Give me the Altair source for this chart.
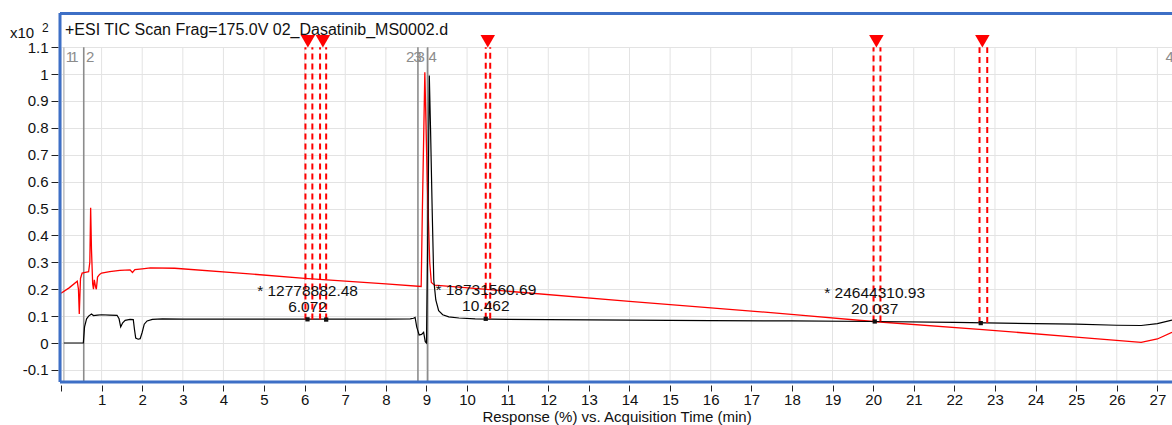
import altair as alt
import pandas as pd

# ---------------- data ----------------
black_t = [0.07, 0.55, 0.58, 0.63, 0.68, 0.75, 0.8, 0.9, 1.0, 1.2, 1.38, 1.43, 1.47, 1.52, 1.58, 1.7,
           1.78, 1.81, 1.84, 1.9, 1.95, 2.0, 2.05, 2.12, 2.25, 2.5, 3.0, 4.0, 5.0, 6.0, 7.0, 8.0, 8.6,
           8.68, 8.72, 8.76, 8.82, 8.88, 8.93, 8.97, 9.0, 9.04, 9.07, 9.1, 9.14, 9.18, 9.23, 9.3, 9.4,
           9.55, 9.8, 10.2, 11, 12, 14, 16, 18, 20, 22, 24, 25, 26, 26.6, 27.0, 27.36]
black_v = [0.0, 0.0, 0.06, 0.09, 0.1, 0.108, 0.102, 0.104, 0.105, 0.104, 0.103, 0.09, 0.06, 0.075,
           0.084, 0.088, 0.087, 0.05, 0.018, 0.014, 0.016, 0.04, 0.07, 0.082, 0.088, 0.09, 0.089,
           0.089, 0.089, 0.089, 0.089, 0.089, 0.09, 0.092, 0.095, 0.06, 0.03, 0.032, 0.04, 0.005,
           0.0, 0.5, 0.995, 0.8, 0.5, 0.234, 0.16, 0.12, 0.105, 0.097, 0.093, 0.09, 0.088, 0.087,
           0.085, 0.083, 0.082, 0.08, 0.077, 0.072, 0.07, 0.066, 0.065, 0.072, 0.085]

red_t = [0.0, 0.2, 0.4, 0.43, 0.45, 0.48, 0.52, 0.6, 0.68, 0.71, 0.73, 0.75, 0.78, 0.8, 0.82, 0.85,
         0.87, 0.9, 0.95, 1.0, 1.2, 1.45, 1.7, 1.76, 1.82, 2.0, 2.2, 2.8, 4.4, 6.0, 8.0, 8.87, 8.9,
         8.96, 9.02, 9.08, 9.12, 9.2, 10.4, 14.0, 18.2, 20.0, 22.7, 25.0, 26.6, 27.0, 27.36]
red_v = [0.185, 0.205, 0.23, 0.2, 0.108, 0.24, 0.26, 0.263, 0.265, 0.3, 0.503, 0.35, 0.22, 0.2,
         0.235, 0.21, 0.2, 0.245, 0.255, 0.26, 0.265, 0.27, 0.272, 0.262, 0.273, 0.276, 0.279,
         0.278, 0.26, 0.24, 0.22, 0.21, 0.5, 1.007, 0.6, 0.3, 0.225, 0.215, 0.2, 0.155, 0.104,
         0.08, 0.05, 0.022, 0.002, 0.015, 0.04]

# integration marks (peak triangles and dashed start/end lines)
tri_t = [6.08, 6.45, 10.51, 20.08, 22.69]
dash_t = [6.02, 6.19, 6.38, 6.53, 10.46, 10.57, 20.01, 20.18, 22.62, 22.81]
dash_base = [0.087, 0.087, 0.087, 0.087, 0.09, 0.09, 0.08, 0.08, 0.074, 0.074]
base_t = [6.07, 6.53, 10.46, 20.04, 22.65]
base_v = [0.088, 0.087, 0.09, 0.08, 0.074]

# peak annotations
ann_t = [6.072, 10.462, 20.037]
ann_area = ["* 12778882.48", "* 18731560.69", "* 24644310.93"]
ann_rt = ["6.072", "10.462", "20.037"]
ann_y1 = [0.193, 0.197, 0.186]
ann_y2 = [0.134, 0.138, 0.127]

# gray event markers
ev_t = [0.07, 0.56, 8.79, 9.03]
ev_col = ["#c4c4c4", "#8c8c8c", "#8c8c8c", "#8c8c8c"]
evlab_t = [0.22, 0.33, 0.72, 8.6, 8.78, 8.86, 9.15, 27.3]
evlab = ["1", "1", "2", "2", "3", "3", "4", "4"]

x_ticks = list(range(0, 28))
y_ticks = [-0.1, 0.0, 0.1, 0.2, 0.3, 0.4, 0.5, 0.6, 0.7, 0.8, 0.9, 1.0, 1.1]

title_text = "+ESI TIC Scan Frag=175.0V 02_Dasatinib_MS0002.d"
x_title = "Response (%) vs. Acquisition Time (min)"

# ---------------- chart ----------------
XMAX = 27.36
YMIN, YMAX = -0.145, 1.227
W, H = 1111, 369
FONT = "Liberation Sans"

xs = alt.Scale(domain=[0, XMAX], nice=False, zero=False)
ys = alt.Scale(domain=[YMIN, YMAX], nice=False, zero=False)

X_AXIS = alt.Axis(values=x_ticks, grid=False, domain=False, offset=3, tickSize=6,
                  tickColor="#222", labelFontSize=15, labelFont=FONT, labelColor="#111",
                  labelPadding=1, titleFont=FONT, titleFontSize=15,
                  titleFontWeight="normal", titleColor="#111", titlePadding=2,
                  labelExpr="datum.value == 0 ? '' : datum.label",
                  labelFlush=False, labelOverlap=False)
Y_AXIS = alt.Axis(values=y_ticks, grid=True, gridColor="#e3e3e3", domain=False,
                  offset=3, tickSize=7, tickColor="#222", labelFontSize=15,
                  labelFont=FONT, labelColor="#111", labelPadding=3,
                  labelExpr="replace(format(datum.value, '~g'), '\u2212', '-')",
                  labelOverlap=False, labelFlush=False)


def X(field):
    return alt.X(field, type="quantitative", scale=xs, axis=X_AXIS, title=x_title)


def Y(field):
    return alt.Y(field, type="quantitative", scale=ys, axis=Y_AXIS, title=None)


black = pd.DataFrame({"t": black_t, "v": black_v})
red = pd.DataFrame({"t": red_t, "v": red_v})

grid_df = pd.DataFrame({"t": x_ticks, "lo": YMIN, "hi": 1.1})
vgrid = alt.Chart(grid_df).mark_rule(color="#e3e3e3", strokeWidth=1).encode(
    x=X("t"), y=Y("lo"), y2="hi:Q",
)

ev_df = pd.DataFrame({"t": ev_t, "c": ev_col, "lo": YMIN, "hi": 1.1})
events = alt.Chart(ev_df).mark_rule(strokeWidth=1.6).encode(
    x=X("t"), y=Y("lo"), y2="hi:Q",
    color=alt.Color("c:N", scale=None),
)
evlab_df = pd.DataFrame({"t": evlab_t, "s": evlab, "y": 1.065})
evlabels = alt.Chart(evlab_df).mark_text(font=FONT, fontSize=15, color="#8c8c8c",
                                         align="center", baseline="middle").encode(
    x=X("t"), y=Y("y"), text="s:N",
)

red_line = alt.Chart(red).mark_line(color="#ff0000", strokeWidth=1.3, clip=True).encode(
    x=X("t"), y=Y("v"), order="t:Q",
)
black_line = alt.Chart(black).mark_line(color="#000000", strokeWidth=1.2, clip=True).encode(
    x=X("t"), y=Y("v"), order="t:Q",
)

dash_df = pd.DataFrame({"t": dash_t, "lo": dash_base, "hi": 1.1})
dashes = alt.Chart(dash_df).mark_rule(color="#ff0000", strokeWidth=2, strokeDash=[6, 4]).encode(
    x=X("t"), y=Y("lo"), y2="hi:Q",
)

tri_df = pd.DataFrame({"t": tri_t, "y": 1.122})
tris = alt.Chart(tri_df).mark_point(shape="triangle-down", filled=True, color="#ff0000",
                                    size=210, opacity=1).encode(
    x=X("t"), y=Y("y"),
)

base_df = pd.DataFrame({"t": base_t, "v": base_v})
bases = alt.Chart(base_df).mark_point(shape="square", filled=True, color="#111111",
                                      size=18, opacity=1).encode(
    x=X("t"), y=Y("v"),
)

ann_df = pd.DataFrame({"t": ann_t, "a": ann_area, "r": ann_rt, "y1": ann_y1, "y2": ann_y2})
ann1 = alt.Chart(ann_df).mark_text(font=FONT, fontSize=15.5, color="#111", align="center",
                                   baseline="middle").encode(
    x=X("t"), y=Y("y1"), text="a:N",
)
ann2 = alt.Chart(ann_df).mark_text(font=FONT, fontSize=15.5, color="#111", align="center",
                                   baseline="middle").encode(
    x=X("t"), y=Y("y2"), text="r:N",
)

dummy = pd.DataFrame({"k": [0]})
title_mark = alt.Chart(dummy).mark_text(text=title_text, font=FONT, fontSize=16, color="#111",
                                        align="left", baseline="middle").encode(
    x=alt.value(4), y=alt.value(17))
x10 = alt.Chart(dummy).mark_text(text="x10", font=FONT, fontSize=15, color="#111",
                                 align="left", baseline="middle").encode(
    x=alt.value(-51), y=alt.value(20))
sup2 = alt.Chart(dummy).mark_text(text="2", font=FONT, fontSize=12, color="#111",
                                  align="left", baseline="middle").encode(
    x=alt.value(-19), y=alt.value(15))

FRAME = "#3d6fc6"
frame_top = alt.Chart(dummy).mark_rule(color=FRAME, strokeWidth=3).encode(
    x=alt.value(-1), x2=alt.value(W), y=alt.value(0.5))
frame_left = alt.Chart(dummy).mark_rule(color=FRAME, strokeWidth=3).encode(
    x=alt.value(-1), y=alt.value(0), y2=alt.value(H))
frame_bottom = alt.Chart(dummy).mark_rule(color=FRAME, strokeWidth=3).encode(
    x=alt.value(-1), x2=alt.value(W), y=alt.value(H))

chart = alt.layer(
    vgrid, events, evlabels, red_line, black_line, dashes, tris, bases,
    ann1, ann2, title_mark, x10, sup2, frame_top, frame_left, frame_bottom,
).properties(
    width=W, height=H,
    autosize=alt.AutoSizeParams(type="none"),
    padding={"left": 61, "top": 13, "right": 0, "bottom": 43},
    background="white",
).configure_view(stroke=None)

chart.save("out.html", embed_options={"renderer": "svg", "actions": False})
